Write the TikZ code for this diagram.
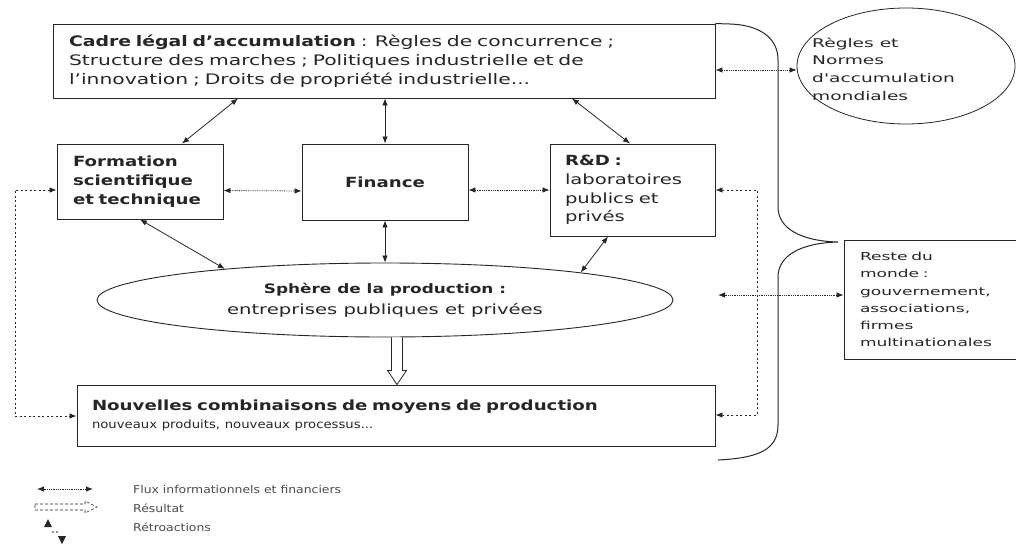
\documentclass[tikz,border=0pt]{standalone}
\usepackage{fontspec}
\setmainfont{DejaVu Sans}[FakeStretch=1.4, BoldFeatures={FakeStretch=1.3}]
\newfontfamily\narrowf{DejaVu Sans}[FakeStretch=1.15]
\newfontfamily\widef{DejaVu Sans}[FakeStretch=1.55]
\usetikzlibrary{arrows.meta,calc,shapes.geometric}
\begin{document}
\begin{tikzpicture}[x=1pt,y=-1pt,
  ink/.style={draw=black!85},
  box/.style={ink, line width=0.9pt, rectangle, inner ysep=0pt, font=\fontsize{14}{19}\selectfont, text=black!85},
  dbl/.style={ink, line width=0.8pt, {Latex[length=7pt,width=5.5pt]}-{Latex[length=7pt,width=5.5pt]}},
  flux/.style={dbl, densely dotted},
  fb/.style={ink, line width=0.8pt, dash pattern=on 2pt off 2.5pt, {Latex[length=7pt,width=5.5pt]}-{Latex[length=7pt,width=5.5pt]}},
  legtext/.style={anchor=west, inner sep=0pt, text=black!70, font=\narrowf\fontsize{10.8}{13}\selectfont},
  ]
\useasboundingbox (0,0) rectangle (1016,559);

% nodes
\node[box, minimum height=74pt, text width=630pt, inner xsep=16pt, align=left, font=\fontsize{14.5}{19}\selectfont] (top) at (384,61)
  {{\bfseries Cadre légal d'accumulation} : Règles de concurrence ;\\
   Structure des marches ; Politiques industrielle et de\\
   l'innovation ; Droits de propriété industrielle...};

\node[box, minimum height=75pt, text width=134pt, inner xsep=16pt, align=left, font=\bfseries\fontsize{14}{19}\selectfont] (formation) at (140,181.5)
  {Formation\\scientifique\\et technique};

\node[box, minimum height=76pt, minimum width=166pt, font=\bfseries\fontsize{14}{19}\selectfont] (finance) at (385,182) {Finance};

\node[box, minimum height=92pt, text width=135pt, inner xsep=15pt, align=left, font=\fontsize{14}{18.7}\selectfont] (rd) at (632.5,190)
  {{\bfseries R\&D :}\\laboratoires\\publics et\\privés};

\node[ink, line width=0.9pt, ellipse, minimum width=576pt, minimum height=74pt, inner sep=0pt, align=center, text=black!85, font=\fontsize{14}{21}\selectfont] (sphere) at (385,300)
  {{\bfseries\fontsize{13}{21}\selectfont Sphère de la production :}\\entreprises publiques et privées};

\node[box, minimum height=61pt, text width=608pt, inner xsep=15pt, align=left, font=\fontsize{14}{18}\selectfont] (nouvelles) at (396,415.5)
  {{\bfseries Nouvelles combinaisons de moyens de production}\\
   {\narrowf\fontsize{11.5}{14}\selectfont nouveaux produits, nouveaux processus...}};

\node[box, minimum height=119pt, text width=150pt, inner xsep=16pt, align=left, font=\widef\fontsize{11}{17.2}\selectfont] (reste) at (935,299.5)
  {Reste du\\monde :\\gouvernement,\\associations,\\firmes\\multinationales};

\node[ink, line width=0.8pt, ellipse, minimum width=218pt, minimum height=116pt, inner sep=0pt] (regles) at (906,66) {};
\node[anchor=west, align=left, inner sep=0pt, text=black!85, font=\widef\fontsize{12}{17.7}\selectfont] (reglestxt) at (812,69)
  {Règles et\\Normes\\d'accumulation\\mondiales};

% bracket
\draw[ink, line width=1pt] (top.north east) -- (730,24) .. controls (760,25) and (778,38) .. (778,60)
  -- (778,207) .. controls (778,228) and (800,241) .. (838,242)
  .. controls (800,243) and (778,256) .. (778,277)
  -- (778,425) .. controls (778,450) and (758,458) .. (718,460);

% solid double arrows
\draw[dbl] ([xshift=-146pt]top.south) -- ([xshift=42pt]formation.north);
\draw[dbl] (finance.north |- top.south) -- (finance.north);
\draw[dbl] ([xshift=188pt]top.south) -- ([xshift=-2.5pt]rd.north);
\draw[dbl] (formation.south) -- (sphere.169.8);
\draw[dbl] (finance.south) -- (sphere.north);
\draw[dbl] ([xshift=-24.5pt]rd.south) -- (sphere.8.1);

% flux
\draw[flux] ([yshift=-9pt]formation.east) -- ([yshift=-9pt]finance.west);
\draw[flux] (finance.east |- rd.west) -- (rd.west);
\draw[flux] ([yshift=-4pt]top.east |- regles.west) -- ([yshift=-4pt]regles.west);
\coordinate (sphR) at (718,295);
\draw[flux] (sphR) -- (reste.west |- sphR);

% feedback
\coordinate (fbL) at (15,190);
\coordinate (fbL2) at (15,416);
\draw[fb] (formation.west |- fbL) -- (fbL) -- (fbL2) -- (nouvelles.west |- fbL2);
\coordinate (fbR) at (757,190);
\coordinate (fbR2) at (757,415);
\draw[fb] (rd.east |- fbR) -- (fbR) -- (fbR2) -- (nouvelles.east |- fbR2);

% result arrow
\coordinate (resA) at ([xshift=12pt]sphere.south);
\draw[ink, line width=0.8pt, fill=white] ($(resA)+(-5.5,0)$) -- ($(resA)+(-5.5,33)$) -- ($(resA)+(-9.5,33)$)
  -- (nouvelles.north -| resA) -- ($(resA)+(9.5,33)$) -- ($(resA)+(5.5,33)$) -- ($(resA)+(5.5,0)$);

% legend
\coordinate (lg1a) at (37,489);
\coordinate (lg1b) at (93,489);
\draw[flux] (lg1a) -- (lg1b);
\draw[ink, line width=0.6pt, densely dashed] (35,504) -- (85,504) -- (85,501) -- (97,507) -- (85,513) -- (85,510) -- (35,510) -- cycle;
\fill[black!85] (44,527) -- (48,519) -- (52,527) -- cycle;
\fill[black!85] (53,532) circle (0.8pt) (57,532) circle (0.8pt);
\fill[black!85] (58,536) -- (62,544) -- (66,536) -- cycle;
\node[legtext] (lgt1) at (133,489) {Flux informationnels et financiers};
\node[legtext] (lgt2) at (133,508) {Résultat};
\node[legtext] (lgt3) at (133,527) {Rétroactions};
\end{tikzpicture}
\end{document}
